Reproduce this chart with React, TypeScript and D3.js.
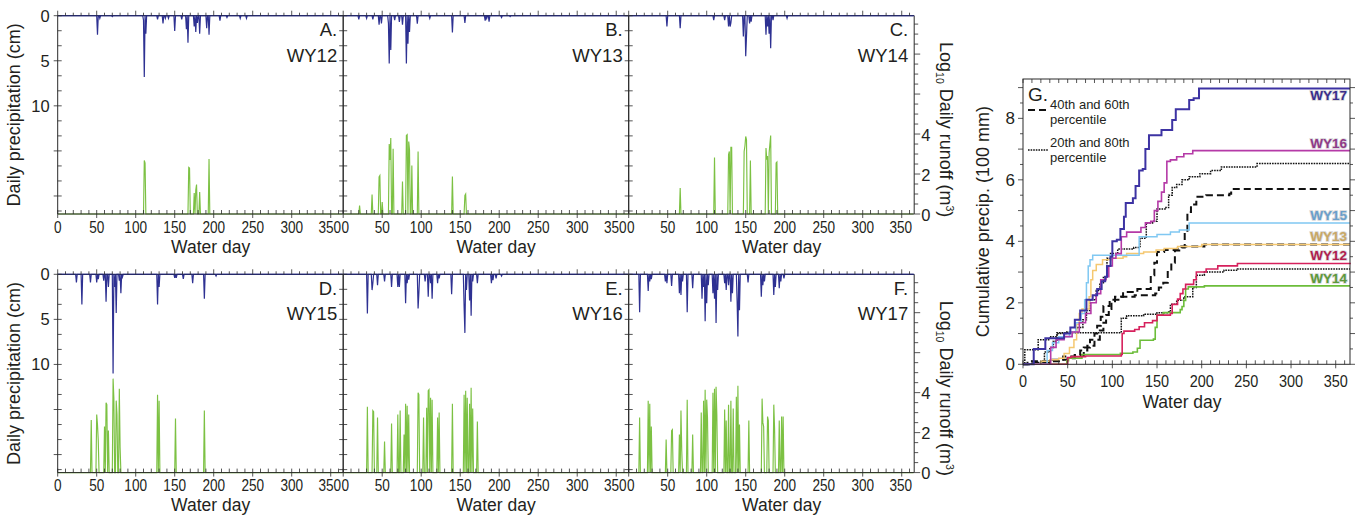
import React from 'react';
import * as d3 from 'd3';

type Pt = [number, number];

// daily precipitation, cm  [water day, cm]
const precipWY12: Pt[] = [[51, 2.1], [54, 0.3], [70, 0.1], [110, 0.5], [111, 6.8], [113, 2.0], [128, 0.4], [135, 0.85], [138, 0.3], [142, 0.3], [150, 1.7], [159, 0.4], [165, 1.5], [167, 3.0], [175, 1.2], [177, 1.8], [179, 0.8], [182, 2.0], [191, 1.4], [194, 2.1], [208, 0.55], [217, 0.2], [234, 0.3], [242, 0.3]];
const precipWY13: Pt[] = [[20, 0.4], [30, 0.3], [38, 0.4], [46, 1.0], [49, 0.85], [58, 0.85], [59, 5.3], [61, 3.8], [66, 0.5], [72, 0.7], [76, 1.0], [81, 5.3], [83, 3.1], [85, 1.8], [95, 0.9], [111, 0.3], [140, 1.85], [156, 0.8], [182, 0.55], [184, 0.3], [187, 0.65], [203, 0.2], [214, 0.1]];
const precipWY14: Pt[] = [[49, 1.2], [66, 1.4], [109, 0.5], [123, 0.5], [128, 1.2], [130, 1.2], [131, 0.8], [147, 2.3], [150, 4.5], [151, 2.3], [155, 0.85], [157, 0.65], [176, 2.1], [178, 1.2], [180, 2.0], [182, 3.6], [185, 0.5], [203, 0.3]];
const precipWY15: Pt[] = [[24, 0.9], [31, 3.35], [42, 0.9], [50, 0.9], [52, 0.55], [59, 0.7], [62, 3.05], [65, 1.4], [71, 11.0], [73, 1.4], [75, 4.3], [79, 0.7], [81, 2.1], [83, 0.3], [128, 3.35], [130, 1.4], [150, 0.4], [152, 0.4], [161, 0.5], [173, 1.0], [188, 2.7], [203, 0.2]];
const precipWY16: Pt[] = [[31, 4.35], [37, 1.75], [38, 1.0], [44, 1.2], [53, 0.8], [62, 1.4], [70, 1.4], [72, 1.4], [80, 3.2], [82, 1.0], [84, 0.6], [96, 3.8], [97, 2.1], [105, 0.8], [109, 2.5], [112, 1.0], [114, 2.7], [121, 1.0], [123, 0.45], [139, 2.2], [155, 3.6], [156, 6.5], [158, 1.75], [162, 2.9], [164, 4.6], [166, 0.8], [172, 1.0], [190, 1.0], [192, 0.65], [196, 0.45], [203, 0.2]];
const precipWY17: Pt[] = [[14, 4.2], [25, 1.85], [27, 0.8], [29, 0.55], [47, 0.8], [49, 1.0], [55, 1.3], [65, 2.1], [67, 2.3], [69, 0.8], [75, 4.2], [82, 1.55], [94, 2.7], [96, 1.4], [98, 5.2], [100, 3.2], [102, 1.2], [108, 2.1], [110, 2.7], [112, 5.4], [114, 1.75], [123, 1.0], [125, 1.75], [128, 1.2], [131, 3.05], [133, 2.1], [139, 3.05], [140, 6.9], [142, 4.0], [153, 0.9], [170, 2.5], [172, 1.2], [174, 0.8], [186, 2.3], [188, 1.4], [193, 1.55], [195, 0.8], [199, 0.45]];

// log10 daily runoff, m3  [water day, value]
const runoffWY12: Pt[] = [[111, 2.68], [112, 2.55], [168, 2.33], [169, 2.3], [175, 1.05], [177, 1.2], [178, 1.47], [182, 1.1], [194, 2.75]];
const runoffWY13: Pt[] = [[21, 0.42], [37, 0.97], [46, 1.85], [47, 1.92], [50, 0.6], [59, 3.5], [60, 2.7], [61, 3.8], [64, 3.27], [76, 1.63], [81, 3.93], [82, 3.97], [84, 3.63], [85, 3.2], [88, 2.43], [96, 3.13], [140, 1.88], [156, 0.93], [157, 1.0]];
const runoffWY14: Pt[] = [[66, 1.3], [110, 2.83], [128, 2.97], [129, 3.13], [131, 3.33], [132, 3.33], [148, 3.13], [149, 3.4], [150, 3.88], [151, 3.72], [156, 2.68], [176, 3.3], [177, 2.72], [178, 2.9], [180, 3.05], [181, 3.5], [182, 3.93], [189, 2.55], [190, 2.6]];
const runoffWY15: Pt[] = [[43, 2.63], [50, 2.9], [51, 2.4], [52, 1.6], [60, 2.3], [62, 3.5], [63, 3.4], [65, 2.1], [71, 4.7], [72, 3.7], [75, 3.6], [76, 2.9], [79, 4.2], [80, 1.25], [128, 3.9], [130, 3.6], [151, 2.7], [188, 3.1]];
const runoffWY16: Pt[] = [[31, 3.3], [38, 3.1], [39, 3.05], [44, 2.75], [53, 1.55], [62, 2.45], [70, 2.9], [73, 3.1], [78, 1.9], [80, 3.45], [82, 3.35], [84, 2.9], [96, 4.0], [97, 3.9], [103, 2.75], [107, 3.25], [109, 4.1], [110, 4.15], [112, 3.75], [114, 3.65], [121, 2.75], [123, 3.0], [140, 3.45], [155, 3.9], [157, 4.1], [159, 3.75], [162, 3.45], [164, 4.25], [166, 3.2], [172, 2.55]];
const runoffWY17: Pt[] = [[14, 2.75], [25, 3.6], [27, 3.45], [29, 2.3], [48, 1.65], [55, 2.1], [56, 2.15], [65, 1.9], [67, 3.1], [68, 1.1], [75, 3.65], [82, 1.9], [93, 3.0], [96, 3.6], [98, 4.15], [100, 3.65], [101, 2.75], [108, 4.0], [110, 4.2], [112, 4.3], [113, 2.9], [123, 3.15], [125, 2.6], [128, 3.4], [131, 3.6], [134, 3.2], [138, 3.8], [140, 4.35], [142, 2.4], [154, 2.6], [171, 3.7], [172, 2.5], [173, 2.3], [178, 2.8], [179, 2.6], [186, 3.4], [187, 2.2], [193, 2.6], [196, 2.8], [198, 2.8]];

// cumulative precipitation, 100 mm  [water day, value] step breakpoints
const cumWY17: Pt[] = [[0, 0], [12, 0.5], [25, 0.85], [42, 0.85], [46, 1.0], [53, 1.2], [58, 1.45], [64, 1.75], [71, 2.1], [78, 2.25], [83, 2.45], [88, 2.7], [92, 2.85], [94, 3.2], [98, 3.5], [100, 4.0], [105, 4.05], [109, 4.4], [113, 4.8], [115, 5.25], [121, 5.25], [123, 5.4], [126, 5.8], [130, 6.3], [134, 6.35], [137, 7.0], [141, 7.45], [153, 7.45], [155, 7.62], [165, 7.62], [167, 7.95], [171, 8.3], [183, 8.3], [186, 8.6], [191, 8.65], [197, 8.97], [366, 8.97]];
const cumWY16: Pt[] = [[0, 0], [31, 0.55], [37, 0.8], [46, 0.9], [55, 1.05], [63, 1.35], [70, 1.65], [76, 2.0], [82, 2.3], [87, 2.75], [93, 2.85], [96, 3.2], [100, 3.45], [104, 3.6], [110, 4.15], [116, 4.3], [129, 4.3], [132, 4.45], [137, 4.6], [143, 4.65], [147, 5.0], [151, 5.3], [155, 5.6], [158, 5.9], [161, 6.6], [165, 6.65], [172, 6.75], [180, 6.85], [190, 6.95], [366, 6.95]];
const cumWY15: Pt[] = [[0, 0], [27, 0.45], [33, 0.7], [40, 0.9], [52, 1.05], [59, 1.35], [65, 1.65], [69, 2.1], [71, 2.65], [73, 3.2], [75, 3.4], [78, 3.55], [127, 3.55], [130, 4.15], [150, 4.22], [165, 4.3], [175, 4.37], [186, 4.6], [366, 4.6]];
const cumWY13: Pt[] = [[0, 0], [20, 0.1], [30, 0.15], [40, 0.2], [46, 0.35], [52, 0.55], [57, 0.8], [60, 1.3], [63, 1.65], [66, 1.8], [74, 2.2], [76, 2.75], [78, 3.05], [82, 3.25], [89, 3.4], [100, 3.45], [112, 3.5], [116, 3.6], [135, 3.65], [149, 3.72], [158, 3.77], [173, 3.83], [200, 3.9], [366, 3.9]];
const cumWY12: Pt[] = [[0, 0], [50, 0.22], [54, 0.25], [70, 0.27], [110, 0.32], [111, 1.0], [113, 1.08], [125, 1.13], [130, 1.22], [136, 1.35], [145, 1.42], [150, 1.6], [165, 1.65], [167, 1.95], [173, 2.12], [176, 2.3], [179, 2.45], [182, 2.6], [191, 2.75], [194, 3.0], [205, 3.1], [218, 3.2], [240, 3.28], [366, 3.3]];
const cumWY14: Pt[] = [[0, 0], [49, 0.12], [51, 0.2], [66, 0.32], [109, 0.36], [123, 0.4], [128, 0.52], [131, 0.78], [146, 0.82], [148, 1.2], [150, 1.6], [157, 1.68], [176, 1.78], [178, 1.88], [180, 2.08], [182, 2.45], [185, 2.52], [203, 2.55], [366, 2.55]];
const cumP40: Pt[] = [[0, 0], [5, 0.1], [30, 0.15], [50, 0.2], [58, 0.3], [64, 0.45], [72, 0.6], [80, 0.8], [86, 1.1], [90, 1.35], [93, 1.6], [96, 1.8], [99, 2.05], [103, 2.2], [112, 2.35], [128, 2.45], [141, 2.45], [143, 2.9], [147, 3.3], [150, 3.65], [158, 3.72], [173, 3.83], [203, 3.9], [366, 3.9]];
const cumP60: Pt[] = [[0, 0], [8, 0.05], [30, 0.1], [45, 0.25], [58, 0.3], [68, 0.55], [75, 0.8], [80, 1.0], [83, 1.25], [87, 1.55], [90, 1.9], [97, 2.1], [110, 2.2], [125, 2.25], [148, 2.3], [152, 2.5], [157, 2.65], [162, 3.0], [166, 3.3], [170, 3.7], [178, 3.8], [181, 4.3], [184, 4.95], [188, 5.2], [194, 5.45], [205, 5.5], [231, 5.55], [233, 5.7], [366, 5.7]];
const cumP20: Pt[] = [[0, 0], [20, 0.05], [24, 0.4], [30, 0.55], [34, 0.75], [38, 1.03], [108, 1.03], [110, 1.5], [116, 1.58], [135, 1.63], [150, 1.68], [163, 1.7], [165, 1.95], [172, 2.08], [180, 2.2], [190, 2.5], [194, 2.9], [203, 3.0], [225, 3.06], [240, 3.1], [366, 3.1]];
const cumP80: Pt[] = [[0, 0], [2, 0.47], [16, 0.47], [17, 0.8], [30, 0.9], [38, 1.0], [49, 1.05], [60, 1.2], [67, 1.45], [71, 1.75], [75, 2.1], [82, 2.4], [86, 2.65], [90, 2.85], [94, 3.45], [98, 3.6], [106, 3.75], [124, 3.8], [131, 4.1], [138, 4.6], [145, 4.65], [150, 5.05], [160, 5.1], [163, 5.5], [167, 5.75], [172, 5.85], [178, 6.0], [186, 6.1], [198, 6.2], [210, 6.3], [222, 6.42], [262, 6.53], [366, 6.53]];

const years = ['WY12', 'WY13', 'WY14', 'WY15', 'WY16', 'WY17'];
const panelLetters = ['A.', 'B.', 'C.', 'D.', 'E.', 'F.'];
const dayTicks = [0, 50, 100, 150, 200, 250, 300, 350];
const precipTicks = [0, 5, 10];
const runoffTicks = [0, 2, 4];
const cumTicks = [0, 2, 4, 6, 8];

const precipByYear = [precipWY12, precipWY13, precipWY14, precipWY15, precipWY16, precipWY17];
const runoffByYear = [runoffWY12, runoffWY13, runoffWY14, runoffWY15, runoffWY16, runoffWY17];

const FONT = "'Liberation Sans', Arial, sans-serif";
const INK = '#2b2b2b';
const TXT = '#231f20';
const NAVY = '#2e3192';
const GREEN = '#7cc143';

// small-multiple layout
const ROW_TOP = [15.7, 274.3];
const PLOT_H = 198.3;
const COL_LEFT = [57.7, 343.2, 628.7];
const PANEL_W = 285.5;

// fill days without a record with zero
const daily = (ev: Pt[]): Pt[] => {
  const m = new Map(ev);
  return d3.range(0, 366).map((d) => [d, m.get(d) ?? 0] as Pt);
};

// tick number, narrowed a bit like the figure's condensed type
function Num({ x, y, v, size = 16 }: { x: number; y: number; v: number; size?: number }) {
  return (
    <text transform={`translate(${x},${y}) scale(0.85,1)`} textAnchor="middle" fontSize={size} fill={TXT}>
      {v}
    </text>
  );
}

function Panel({ idx }: { idx: number }) {
  const row = Math.floor(idx / 3);
  const col = idx % 3;
  const top = ROW_TOP[row];
  const bottom = top + PLOT_H;
  const left = COL_LEFT[col];
  const right = left + PANEL_W;

  const x = d3.scaleLinear().domain([0, 366]).range([left, right]);
  const yP = d3.scaleLinear().domain([0, 22]).range([top, bottom]);
  const yR = d3.scaleLinear().domain([0, 9.92]).range([bottom, top]);

  const pLine = d3.line<Pt>().x((d) => x(d[0])).y((d) => yP(d[1]));
  const rLine = d3.line<Pt>().x((d) => x(d[0])).y((d) => yR(d[1]));

  const minorDays = d3.range(0, 361, 10);
  const pMinor = d3.range(0, 14).map((k) => (k * 5) / 3);
  const rMinor = d3.range(0, 9.6, 0.5);

  return (
    <g>
      <path d={rLine(daily(runoffByYear[idx])) || ''} fill="none" stroke={GREEN} strokeWidth={1.15} />
      <path d={pLine(daily(precipByYear[idx])) || ''} fill="none" stroke={NAVY} strokeWidth={1.2} />

      {/* frame */}
      <line x1={left} x2={left} y1={top} y2={bottom} stroke={INK} strokeWidth={1} />
      <line x1={right} x2={right} y1={top} y2={bottom} stroke={INK} strokeWidth={1} />
      <line x1={left} x2={right} y1={bottom} y2={bottom} stroke={INK} strokeWidth={1} />
      <line x1={left} x2={right} y1={top} y2={top} stroke="#262a6b" strokeWidth={1.3} />

      {/* day ticks */}
      {minorDays.map((d) => {
        const major = d % 50 === 0;
        return (
          <g key={'d' + d}>
            <line x1={x(d)} x2={x(d)} y1={bottom - 4} y2={bottom + (major ? 4 : 0)} stroke={INK} strokeWidth={0.8} />
            <line x1={x(d)} x2={x(d)} y1={top} y2={top - (major ? 5 : 3)} stroke={INK} strokeWidth={0.8} />
          </g>
        );
      })}
      {dayTicks.map((d) => (
        <Num key={'dl' + d} x={x(d) + (d === 0 && col > 0 ? 2 : 0) - (d === 350 ? 1 : 0)} y={bottom + 18.5} v={d} />
      ))}
      <text x={x(196)} y={bottom + 38.5} textAnchor="middle" fontSize={17.5} fill={TXT}>
        Water day
      </text>

      {/* precipitation ticks on the left edge */}
      {pMinor.map((v, i) => {
        const major = i % 3 === 0;
        return (
          <line
            key={'p' + i}
            x1={left - (major || col > 0 ? 4 : 0)}
            x2={left + 4}
            y1={yP(v)}
            y2={yP(v)}
            stroke={INK}
            strokeWidth={0.8}
          />
        );
      })}
      {col === 0 &&
        precipTicks.map((v) => (
          <text key={'pl' + v} x={left - 8} y={yP(v)} dy="0.36em" textAnchor="end" fontSize={16.5} fill={TXT}>
            {v}
          </text>
        ))}
      {col === 0 && (
        <text
          transform={`translate(20, ${(top + bottom) / 2}) rotate(-90)`}
          textAnchor="middle"
          fontSize={18}
          fill={TXT}
        >
          Daily precipitation (cm)
        </text>
      )}

      {/* runoff axis on the right */}
      {col === 2 &&
        rMinor.map((v) => (
          <line
            key={'r' + v}
            x1={right}
            x2={right + (v % 2 === 0 ? 6 : 4)}
            y1={yR(v)}
            y2={yR(v)}
            stroke={INK}
            strokeWidth={0.8}
          />
        ))}
      {col === 2 &&
        runoffTicks.map((v) => (
          <text key={'rl' + v} x={right + 7} y={yR(v)} dy="0.4em" textAnchor="start" fontSize={16.5} fill={TXT}>
            {v}
          </text>
        ))}
      {col === 2 && (
        <text
          transform={`translate(940, ${top + 114}) rotate(90)`}
          textAnchor="middle"
          fontSize={18}
          fill={TXT}
        >
          Log
          <tspan fontSize={10.5} dy={4}>10</tspan>
          <tspan dy={-4}> Daily runoff (m</tspan>
          <tspan fontSize={10.5} dy={-6}>3</tspan>
          <tspan dy={6}>)</tspan>
        </text>
      )}

      {/* panel tag */}
      <text x={right - 6} y={top + 20.5} textAnchor="end" fontSize={18.5} fill={TXT}>
        {panelLetters[idx]}
      </text>
      <text x={right - 6} y={top + 46} textAnchor="end" fontSize={18.5} fill={TXT}>
        {years[idx]}
      </text>
    </g>
  );
}

// cumulative panel
const G_LEFT = 1023;
const G_RIGHT = 1350;
const G_TOP = 79;
const G_BOTTOM = 364.3;

const cumSeries = [
  { name: 'WY17', data: cumWY17, color: '#3d33a3', label: '#3a2e8c', width: 2, ly: 11 },
  { name: 'WY16', data: cumWY16, color: '#b53aa7', label: '#8f3a88', width: 1.6, ly: -2.5 },
  { name: 'WY15', data: cumWY15, color: '#80c8f2', label: '#6a9fcb', width: 1.5, ly: -3 },
  { name: 'WY13', data: cumWY13, color: '#f5c870', label: '#c9a865', width: 1.5, ly: -3 },
  { name: 'WY12', data: cumWY12, color: '#d6205c', label: '#b01e4f', width: 1.6, ly: -2.5 },
  { name: 'WY14', data: cumWY14, color: '#6cbd3a', label: '#5c993a', width: 1.6, ly: -2.5 },
];

function CumulativePanel() {
  const x = d3.scaleLinear().domain([0, 366]).range([G_LEFT, G_RIGHT]);
  const y = d3.scaleLinear().domain([0, 9.28]).range([G_BOTTOM, G_TOP]);
  const step = d3.line<Pt>().x((d) => x(d[0])).y((d) => y(d[1])).curve(d3.curveStepAfter);
  const minorDays = d3.range(0, 361, 10);
  const yMinor = d3.range(0, 9.01, 0.5);

  return (
    <g>
      {/* percentile envelopes */}
      {[cumP80, cumP20].map((s, i) => (
        <path key={'dot' + i} d={step(s) || ''} fill="none" stroke="#111" strokeWidth={1.5} strokeDasharray="1.6,1" />
      ))}
      {[cumP60, cumP40].map((s, i) => (
        <path key={'dash' + i} d={step(s) || ''} fill="none" stroke="#111" strokeWidth={2} strokeDasharray="7,4" />
      ))}
      {cumSeries
        .slice()
        .reverse()
        .map((s) => (
          <path key={s.name} d={step(s.data) || ''} fill="none" stroke={s.color} strokeWidth={s.width} />
        ))}

      {/* frame */}
      <rect x={G_LEFT} y={G_TOP} width={G_RIGHT - G_LEFT} height={G_BOTTOM - G_TOP} fill="none" stroke={INK} strokeWidth={1} />
      {minorDays.map((d) => {
        const major = d % 50 === 0;
        return (
          <g key={'gd' + d}>
            <line x1={x(d)} x2={x(d)} y1={G_BOTTOM - 4} y2={G_BOTTOM + (major ? 4 : 0)} stroke={INK} strokeWidth={0.8} />
            <line x1={x(d)} x2={x(d)} y1={G_TOP} y2={G_TOP + 4} stroke={INK} strokeWidth={0.8} />
          </g>
        );
      })}
      {yMinor.map((v) => (
        <g key={'gy' + v}>
          <line x1={G_LEFT - (v % 1 === 0 ? 5 : 3)} x2={G_LEFT} y1={y(v)} y2={y(v)} stroke={INK} strokeWidth={0.8} />
          <line x1={G_RIGHT} x2={G_RIGHT + (v % 1 === 0 ? 5 : 3)} y1={y(v)} y2={y(v)} stroke={INK} strokeWidth={0.8} />
        </g>
      ))}
      {dayTicks.map((d) => (
        <Num key={'gdl' + d} x={x(d)} y={G_BOTTOM + 23} v={d} size={17} />
      ))}
      {cumTicks.map((v) => (
        <text key={'gyl' + v} x={G_LEFT - 8} y={y(v)} dy="0.36em" textAnchor="end" fontSize={17} fill={TXT}>
          {v}
        </text>
      ))}
      <text x={x(178)} y={G_BOTTOM + 43.5} textAnchor="middle" fontSize={17.5} fill={TXT}>
        Water day
      </text>
      <text
        transform={`translate(989, ${(G_TOP + G_BOTTOM) / 2}) rotate(-90)`}
        textAnchor="middle"
        fontSize={18}
        fill={TXT}
      >
        Cumulative precip. (100 mm)
      </text>

      {/* legend */}
      <text x={1028} y={101} fontSize={19} fill={TXT}>G.</text>
      <line x1={1028} x2={1048} y1={110} y2={110} stroke="#111" strokeWidth={2} strokeDasharray="7,4" />
      <text x={1050} y={108.7} fontSize={13} fill={TXT}>40th and 60th</text>
      <text x={1050} y={123.5} fontSize={13} fill={TXT}>percentile</text>
      <line x1={1028} x2={1048} y1={150} y2={150} stroke="#111" strokeWidth={1.5} strokeDasharray="1.6,1" />
      <text x={1050} y={146.7} fontSize={13} fill={TXT}>20th and 80th</text>
      <text x={1050} y={161.7} fontSize={13} fill={TXT}>percentile</text>

      {/* series tags */}
      {cumSeries.map((s) => {
        const last = s.data[s.data.length - 1];
        return (
          <text
            key={'lab' + s.name}
            x={G_RIGHT - 3}
            y={y(last[1]) + s.ly}
            textAnchor="end"
            fontSize={13.5}
            fontWeight="bold"
            fill={s.label}
            stroke="#d8d8d8"
            strokeWidth={1.6}
            paintOrder="stroke"
          >
            {s.name}
          </text>
        );
      })}
    </g>
  );
}

export default function App() {
  return (
    <svg
      width={1360}
      height={517}
      style={{ position: 'absolute', left: 0, top: 0, background: '#fff', fontFamily: FONT }}
    >
      {d3.range(0, 6).map((i) => (
        <Panel key={i} idx={i} />
      ))}
      <CumulativePanel />
    </svg>
  );
}
